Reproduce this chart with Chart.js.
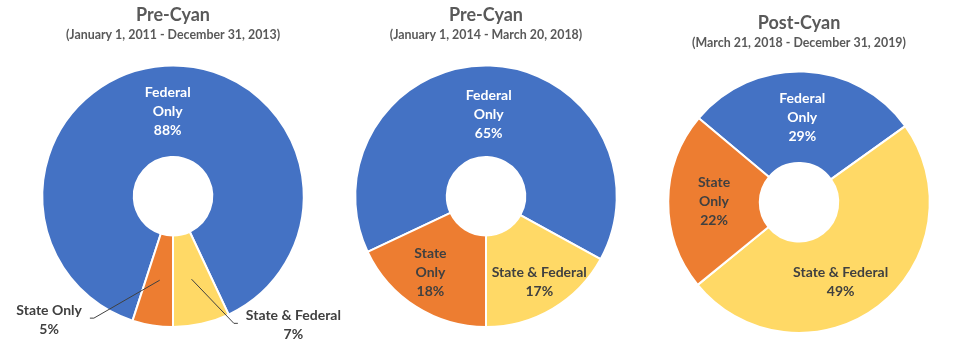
<!DOCTYPE html>
<html>
<head>
<meta charset="utf-8">
<script src="https://cdn.jsdelivr.net/npm/chart.js@4.4.0/dist/chart.umd.min.js"></script>
<style>
  body { margin: 0; background: #fff; }
  #wrap { position: relative; width: 974px; height: 350px; }
  .pie { position: absolute; top: 0; height: 350px; }
</style>
</head>
<body>
<div id="wrap">
  <div class="pie" style="left:0;width:346px"><canvas id="pie1"></canvas></div>
  <div class="pie" style="left:350px;width:272px"><canvas id="pie2"></canvas></div>
  <div class="pie" style="left:660px;width:278px"><canvas id="pie3"></canvas></div>
</div>
<script>
const categories = ['Federal Only', 'State & Federal', 'State Only'];
const preCyanEarly = [88, 7, 5];
const preCyanLate = [65, 17, 18];
const postCyan = [29, 49, 22];
const titles = ['Pre-Cyan', 'Pre-Cyan', 'Post-Cyan'];
const periods = [
  '(January 1, 2011 - December 31, 2013)',
  '(January 1, 2014 - March 20, 2018)',
  '(March 21, 2018 - December 31, 2019)'
];

const sliceColors = ['#4472C4', '#FFD966', '#ED7D31'];
const textColors = ['#ffffff', '#404040', '#404040'];
// how each category name is broken when it sits inside its slice
const wrapped = {
  'Federal Only': ['Federal', 'Only'],
  'State Only': ['State', 'Only'],
  'State & Federal': ['State & Federal']
};

Chart.defaults.font.family = 'Lato';

const LINE = 19;

function drawLines(ctx, lines, cx, cy) {
  const y0 = cy - (lines.length - 1) * LINE / 2;
  lines.forEach((t, k) => ctx.fillText(t, cx, y0 + k * LINE));
}

// percentage labels, inside the slice or pulled out with a leader line
const sliceLabels = {
  id: 'sliceLabels',
  afterDatasetsDraw(chart, args, opts) {
    const ctx = chart.ctx;
    const meta = chart.getDatasetMeta(0);
    const values = chart.data.datasets[0].data;
    const outside = opts.outside || {};
    const nudge = opts.nudge || {};
    ctx.save();
    ctx.font = 'bold 14px Lato';
    ctx.textAlign = 'center';
    ctx.textBaseline = 'middle';
    meta.data.forEach((arc, i) => {
      const name = chart.data.labels[i];
      const p = arc.getProps(['x', 'y', 'startAngle', 'endAngle', 'innerRadius', 'outerRadius'], true);
      const mid = (p.startAngle + p.endAngle) / 2;
      const rMid = (p.innerRadius + p.outerRadius) / 2;
      const ax = p.x + Math.cos(mid) * rMid;
      const ay = p.y + Math.sin(mid) * rMid;
      const pct = values[i] + '%';
      const out = outside[name];
      if (out) {
        const a = (out.angle - 90) * Math.PI / 180;
        const lx = p.x + Math.cos(a) * out.dist * p.outerRadius;
        const ly = p.y + Math.sin(a) * out.dist * p.outerRadius;
        const half = ctx.measureText(name).width / 2;
        const side = lx < p.x ? 1 : -1;
        const ex = lx + side * (half + 12);
        ctx.strokeStyle = '#404040';
        ctx.lineWidth = 1;
        ctx.beginPath();
        ctx.moveTo(ax, ay);
        ctx.lineTo(ex, ly - 2);
        ctx.lineTo(ex - side * 4, ly - 2);
        ctx.stroke();
        ctx.fillStyle = '#404040';
        drawLines(ctx, [name, pct], lx, ly);
      } else {
        const d = nudge[name] || [0, 0];
        ctx.fillStyle = textColors[i];
        drawLines(ctx, wrapped[name].concat(pct), ax + d[0], ay + d[1]);
      }
    });
    ctx.restore();
  }
};

function makePie(id, values, k, rotation, pad, subGap, labelOpts) {
  return new Chart(document.getElementById(id), {
    type: 'doughnut',
    data: {
      labels: categories,
      datasets: [{
        data: values,
        backgroundColor: sliceColors,
        borderColor: '#ffffff',
        borderWidth: 2,
        hoverOffset: 0
      }]
    },
    options: {
      responsive: true,
      maintainAspectRatio: false,
      animation: false,
      rotation: rotation,
      cutout: '30%',
      layout: { padding: { top: pad[0], bottom: pad[1], left: 0, right: 0 } },
      plugins: {
        legend: { display: false },
        tooltip: { enabled: false },
        title: {
          display: true,
          text: titles[k],
          color: '#595959',
          font: { size: 18, weight: 'bold' },
          padding: { top: 4, bottom: 0 }
        },
        subtitle: {
          display: true,
          text: periods[k],
          color: '#595959',
          font: { size: 12.4, weight: 'bold' },
          padding: { top: 2, bottom: subGap }
        },
        sliceLabels: labelOpts
      }
    },
    plugins: [sliceLabels]
  });
}

makePie('pie1', preCyanEarly, 0, 198, [0, 22], 22, {
  outside: {
    'State Only': { angle: 225, dist: 1.34 },
    'State & Federal': { angle: 137, dist: 1.35 }
  }
});
makePie('pie2', preCyanLate, 1, 244.8, [0, 22], 22, {
  nudge: { 'Federal Only': [0, 3], 'State Only': [-10, 4], 'State & Federal': [10, 13] }
});
makePie('pie3', postCyan, 2, 310, [8, 16], 20, {
  nudge: { 'State & Federal': [-10, 12] }
});
</script>
</body>
</html>
